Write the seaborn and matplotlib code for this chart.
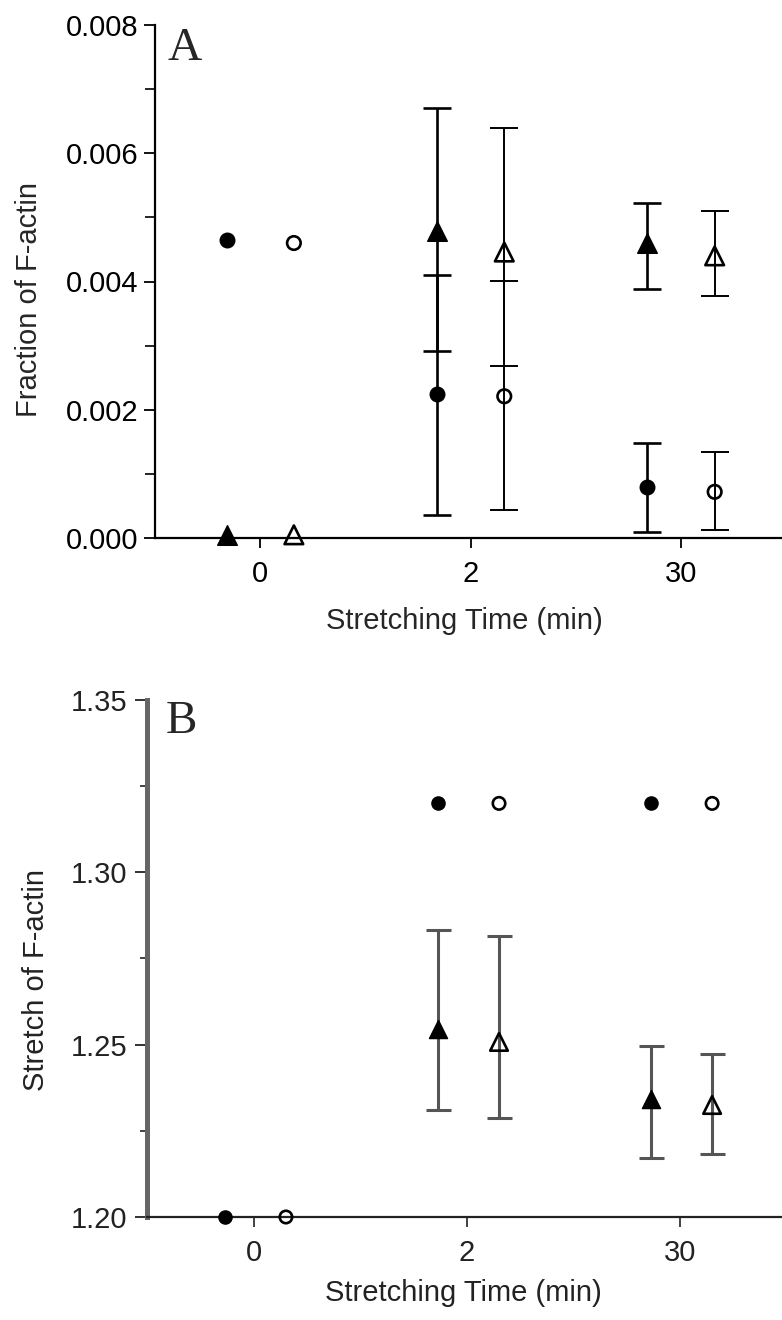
import numpy as np
import pandas as pd
import matplotlib
matplotlib.use("Agg")
import matplotlib.pyplot as plt
import seaborn as sns
from matplotlib.ticker import FixedLocator, FormatStrFormatter, MultipleLocator

# ---------------- data ----------------
times = ["0", "2", "30"]

# Panel A: Fraction of F-actin
a_fill_circle = [0.00465, 0.00225, 0.00079]
a_fill_circle_lo = [np.nan, 0.00036, 0.00010]
a_fill_circle_hi = [np.nan, 0.00410, 0.00148]

a_open_circle = [0.00460, 0.00221, 0.00072]
a_open_circle_lo = [np.nan, 0.00043, 0.00012]
a_open_circle_hi = [np.nan, 0.00401, 0.00134]

a_fill_tri = [0.00005, 0.00479, 0.00460]
a_fill_tri_lo = [np.nan, 0.00292, 0.00389]
a_fill_tri_hi = [np.nan, 0.00671, 0.00522]

a_open_tri = [0.00005, 0.00446, 0.00440]
a_open_tri_lo = [np.nan, 0.00268, 0.00378]
a_open_tri_hi = [np.nan, 0.00640, 0.00510]

# Panel B: Stretch of F-actin
b_fill_circle = [1.200, 1.320, 1.320]
b_open_circle = [1.200, 1.320, 1.320]

b_fill_tri = [np.nan, 1.2546, 1.2341]
b_fill_tri_lo = [np.nan, 1.2310, 1.2172]
b_fill_tri_hi = [np.nan, 1.2833, 1.2495]

b_open_tri = [np.nan, 1.2508, 1.2325]
b_open_tri_lo = [np.nan, 1.2287, 1.2184]
b_open_tri_hi = [np.nan, 1.2814, 1.2474]

a_yticks = [0.000, 0.002, 0.004, 0.006, 0.008]
b_yticks = [1.20, 1.25, 1.30, 1.35]

# ---------------- style ----------------
sns.set_theme(style="ticks")
plt.rcParams["font.family"] = ["Liberation Sans", "DejaVu Sans"]
plt.rcParams["axes.unicode_minus"] = False

FS = 21
fig = plt.figure(figsize=(7.82, 13.2), dpi=100)
axA = fig.add_axes([155 / 782, 1 - 538 / 1320, 1 - 155 / 782, 513 / 1320])
axB = fig.add_axes([147 / 782, 1 - 1217 / 1320, 1 - 147 / 782, 517 / 1320])

base = np.arange(len(times))
DODGE = 0.16


def series(ax, vals, lo, hi, offset, marker, filled, size, ecolor, elw, cap, mcolor="black"):
    df = pd.DataFrame({"time": times, "pos": base + offset, "val": vals})
    if lo is not None:
        lo_a = np.array(lo, float)
        hi_a = np.array(hi, float)
        v = np.array(vals, float)
        m = ~np.isnan(lo_a)
        ax.errorbar(df["pos"][m], v[m], yerr=[v[m] - lo_a[m], hi_a[m] - v[m]],
                    fmt="none", ecolor=ecolor, elinewidth=elw, capsize=cap,
                    capthick=elw, zorder=2)
    df = df.dropna()
    if filled:
        sns.scatterplot(data=df, x="pos", y="val", ax=ax, marker=marker, s=size,
                        color=mcolor, edgecolor=mcolor, linewidth=1.0,
                        zorder=4, clip_on=False, legend=False)
    else:
        sns.scatterplot(data=df, x="pos", y="val", ax=ax, marker=marker, s=size,
                        facecolor="none", edgecolor=mcolor, linewidth=1.9,
                        zorder=4, clip_on=False, legend=False)


# ---------- Panel A ----------
series(axA, a_fill_tri, a_fill_tri_lo, a_fill_tri_hi, -DODGE, "^", True, 200, "black", 1.9, 10)
series(axA, a_fill_circle, a_fill_circle_lo, a_fill_circle_hi, -DODGE, "o", True, 110, "black", 1.9, 10)
series(axA, a_open_tri, a_open_tri_lo, a_open_tri_hi, DODGE, "^", False, 180, "black", 1.4, 10)
series(axA, a_open_circle, a_open_circle_lo, a_open_circle_hi, DODGE, "o", False, 95, "black", 1.4, 10)

axA.set_xlim(-0.5, 2.48)
axA.set_ylim(0.0, 0.008)
axA.xaxis.set_major_locator(FixedLocator(base))
axA.set_xticklabels(times)
axA.yaxis.set_major_locator(FixedLocator(a_yticks))
axA.yaxis.set_minor_locator(MultipleLocator(0.001))
axA.yaxis.set_major_formatter(FormatStrFormatter("%.3f"))
for side in ["top", "right"]:
    axA.spines[side].set_visible(False)
for side in ["left", "bottom"]:
    axA.spines[side].set_linewidth(1.6)
    axA.spines[side].set_color("black")
axA.tick_params(axis="y", which="major", length=8, width=1.3, pad=4, labelsize=FS, colors="black")
axA.tick_params(axis="y", which="minor", length=7, width=1.2, colors="black")
axA.tick_params(axis="x", which="major", length=7, width=1.3, pad=9, labelsize=FS, colors="black")
axA.set_xlabel("Stretching Time (min)", fontsize=FS)
axA.set_ylabel("Fraction of F-actin", fontsize=FS)
axA.xaxis.set_label_coords(0.493, -0.135)
axA.yaxis.set_label_coords(-0.178, 0.464)
fig.text(168 / 782, 1 - 60 / 1320, "A", fontsize=34, family=["Liberation Serif", "DejaVu Serif"])

# ---------- Panel B ----------
GRAY = "#555555"
series(axB, b_fill_tri, b_fill_tri_lo, b_fill_tri_hi, -DODGE * 0.85, "^", True, 170, GRAY, 2.2, 9)
series(axB, b_open_tri, b_open_tri_lo, b_open_tri_hi, DODGE * 0.95, "^", False, 160, GRAY, 2.2, 9)
series(axB, b_fill_circle, None, None, -DODGE * 0.85, "o", True, 90, GRAY, 2.0, 9)
series(axB, b_open_circle, None, None, DODGE * 0.95, "o", False, 80, GRAY, 2.0, 9)

axB.set_xlim(-0.5, 2.48)
axB.set_ylim(1.20, 1.35)
axB.xaxis.set_major_locator(FixedLocator(base))
axB.set_xticklabels(times)
axB.yaxis.set_major_locator(FixedLocator(b_yticks))
axB.yaxis.set_minor_locator(MultipleLocator(0.025))
axB.yaxis.set_major_formatter(FormatStrFormatter("%.2f"))
for side in ["top", "right"]:
    axB.spines[side].set_visible(False)
axB.spines["left"].set_linewidth(3.6)
axB.spines["left"].set_color("#666666")
axB.spines["bottom"].set_linewidth(1.6)
axB.spines["bottom"].set_color("#222222")
axB.tick_params(axis="y", which="major", length=9, width=1.3, pad=5, labelsize=FS, colors="#222222")
axB.tick_params(axis="y", which="minor", length=5, width=1.2, colors="#222222")
axB.tick_params(axis="x", which="major", length=7, width=1.2, pad=9, labelsize=FS, colors="#222222")
axB.set_xlabel("Stretching Time (min)", fontsize=FS, color="#222222")
axB.set_ylabel("Stretch of F-actin", fontsize=FS, color="#222222")
axB.xaxis.set_label_coords(0.499, -0.12)
axB.yaxis.set_label_coords(-0.152, 0.458)
fig.text(166 / 782, 1 - 733 / 1320, "B", fontsize=34, family=["Liberation Serif", "DejaVu Serif"])

fig.savefig("out.png", dpi=100)
